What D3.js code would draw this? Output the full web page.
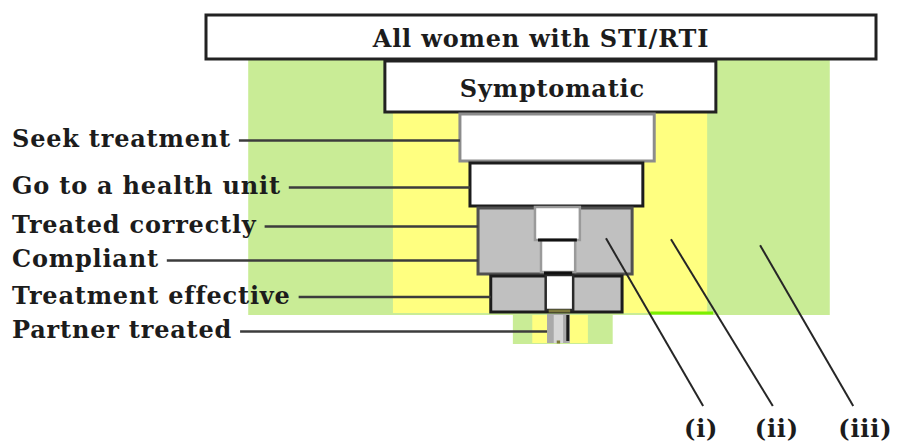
<!DOCTYPE html>
<html>
<head>
<meta charset="utf-8">
<script src="https://cdn.jsdelivr.net/npm/d3@7"></script>
<style>
  body { margin: 0; background: #fff; }
  svg text { font-family: "DejaVu Serif", serif; font-weight: bold; fill: #1c1c1c; letter-spacing: 0.8px; }
</style>
</head>
<body>
<svg id="funnel" width="901" height="445"></svg>
<script>
// stages of the care funnel, widths as % of all women with STI/RTI
const stages = ["All women with STI/RTI", "Symptomatic", "Seek treatment", "Go to a health unit",
                "Treated correctly", "Compliant", "Treatment effective", "Partner treated"]
const stageFrom = [0, 26.7, 37.9, 39.4, 40.6, 40.6, 42.5, 50.9]
const stageTo = [100, 76.1, 66.9, 65.2, 63.6, 63.6, 62.1, 54.3]

// white core (not covered) inside the treated rows
const coreFrom = [null, null, null, null, 49.1, 50.0, 50.7, 51.9]
const coreTo = [null, null, null, null, 55.8, 55.1, 54.8, 53.3]

// background areas (iii) green and (ii) yellow, per row
const greenFrom = [null, 6.3, 6.3, 6.3, 6.3, 6.3, 6.3, 45.8]
const greenTo = [null, 93.1, 93.1, 93.1, 93.1, 93.1, 93.1, 60.7]
const yellowFrom = [null, null, 27.9, 27.9, 27.9, 27.9, 27.9, 48.7]
const yellowTo = [null, null, 74.8, 74.8, 74.8, 74.8, 74.8, 57.0]

// annotations: anchor inside the area, tip near the label
const notes = ["(i)", "(ii)", "(iii)"]
const noteAnchorX = [59.7, 69.4, 82.7]
const noteAnchorRow = [4.95, 4.98, 5.15]
const noteTipX = [74.2, 84.6, 96.6]
const noteLabelX = [73.9, 85.2, 98.4]

const svg = d3.select("#funnel")

let xScale = d3.scaleLinear().domain([0, 100]).range([206, 876])
let yRow = d3.scaleLinear()
    .domain(d3.range(9))
    .range([14, 60, 113, 162, 207, 240, 275, 313, 344])

let rows = stages.map((s, i) => ({i: i, name: s}))

// backgrounds
svg.append("g").selectAll("rect")
    .data(rows.filter(d => greenFrom[d.i] != null))
    .join("rect")
    .attr("x", d => xScale(greenFrom[d.i]))
    .attr("width", d => xScale(greenTo[d.i]) - xScale(greenFrom[d.i]))
    .attr("y", d => yRow(d.i))
    .attr("height", d => yRow(d.i + 1) - yRow(d.i) + (d.i == 6 ? 2 : 0))
    .attr("fill", "#c9ec96")

svg.append("g").selectAll("rect")
    .data(rows.filter(d => yellowFrom[d.i] != null))
    .join("rect")
    .attr("x", d => xScale(yellowFrom[d.i]))
    .attr("width", d => xScale(yellowTo[d.i]) - xScale(yellowFrom[d.i]))
    .attr("y", d => yRow(d.i) + (d.i == 7 ? 2 : 0))
    .attr("height", d => yRow(d.i + 1) - yRow(d.i) - (d.i == 7 ? 3 : 0))
    .attr("fill", "#ffff80")

// merge consecutive stages that share the same extent into one box
let boxes = []
rows.forEach(d => {
    let prev = boxes[boxes.length - 1]
    if (prev && stageFrom[prev.i] == stageFrom[d.i] && stageTo[prev.i] == stageTo[d.i]) {
        prev.r1 = d.i + 1
    } else {
        boxes.push({i: d.i, r0: d.i, r1: d.i + 1})
    }
})

let boxFill = d => d.i >= 4 ? (d.i == 7 ? "#a9a9a9" : "#c0c0c0") : "#fff"
let boxStroke = {0: "#222", 1: "#222", 2: "#8c8c8c", 3: "#1c1c1c", 4: "#505050", 6: "#1c1c1c", 7: "none"}

svg.append("g").selectAll("rect")
    .data(boxes)
    .join("rect")
    .attr("x", d => xScale(stageFrom[d.i]))
    .attr("width", d => xScale(stageTo[d.i]) - xScale(stageFrom[d.i]))
    .attr("y", d => yRow(d.r0) + 1)
    .attr("height", d => yRow(d.r1) - yRow(d.r0) - 2)
    .attr("fill", boxFill)
    .attr("stroke", d => boxStroke[d.i])
    .attr("stroke-width", 3)

// cores
let cores = rows.filter(d => coreFrom[d.i] != null)
svg.append("g").selectAll("rect")
    .data(cores)
    .join("rect")
    .attr("x", d => xScale(coreFrom[d.i]))
    .attr("width", d => xScale(coreTo[d.i]) - xScale(coreFrom[d.i]))
    .attr("y", d => yRow(d.i) + (d.i == 7 ? 2 : 0))
    .attr("height", d => yRow(d.i + 1) - yRow(d.i) - (d.i == 4 ? 0 : 3))
    .attr("fill", d => d.i == 7 ? "#d6d6d6" : "#fff")
    .attr("stroke", d => d.i == 6 ? "#2a2a2a" : (d.i == 7 ? "none" : "#9a9a9a"))
    .attr("stroke-width", 2.5)

// dark bottoms of the cores
svg.append("g").selectAll("line")
    .data(cores)
    .join("line")
    .attr("x1", d => xScale(coreFrom[d.i]) + 3)
    .attr("x2", d => xScale(coreTo[d.i]) - 3)
    .attr("y1", d => yRow(d.i + 1) - (d.i == 4 ? 0 : 2))
    .attr("y2", d => yRow(d.i + 1) - (d.i == 4 ? 0 : 2))
    .attr("stroke", d => d.i >= 6 ? "#7d7a3c" : "#111")
    .attr("stroke-width", 3)

// partner bar right edge
svg.append("line")
    .attr("x1", xScale(stageTo[7]) - 2).attr("x2", xScale(stageTo[7]) - 2)
    .attr("y1", yRow(7) + 2).attr("y2", yRow(8) - 3)
    .attr("stroke", "#1a1a1a").attr("stroke-width", 3)

// bright green edge at the bottom of the yellow area
svg.append("line")
    .attr("x1", xScale(66.3)).attr("x2", xScale(yellowTo[6]) + 6)
    .attr("y1", yRow(7)).attr("y2", yRow(7))
    .attr("stroke", "#7cf000").attr("stroke-width", 3)

// title texts inside the two top boxes
svg.append("g").selectAll("text")
    .data(boxes.filter(d => d.i < 2))
    .join("text")
    .attr("x", d => xScale((stageFrom[d.i] + stageTo[d.i]) / 2) + (d.i == 1 ? 2 : 0))
    .attr("y", d => (yRow(d.r0) + yRow(d.r1)) / 2 + 10)
    .attr("text-anchor", "middle")
    .style("font-size", "24px")
    .text(d => stages[d.i])

// left labels with leader lines
let labelRows = rows.filter(d => d.i >= 2)
let labels = svg.append("g").selectAll("text")
    .data(labelRows)
    .join("text")
    .attr("x", 12)
    .attr("y", d => (yRow(d.i) + yRow(d.i + 1)) / 2 + 9.5)
    .style("font-size", "24px")
    .text(d => d.name)

labels.each(function(d) { d.textEnd = 12 + this.getComputedTextLength() })

svg.append("g").selectAll("line")
    .data(labelRows)
    .join("line")
    .attr("x1", d => d.textEnd + 8)
    .attr("x2", d => xScale(stageFrom[d.i]))
    .attr("y1", d => (yRow(d.i) + yRow(d.i + 1)) / 2 + 3)
    .attr("y2", d => (yRow(d.i) + yRow(d.i + 1)) / 2 + 3)
    .attr("stroke", "#3c3c3c")
    .attr("stroke-width", 2.5)

// annotation pointers
let noteData = notes.map((n, k) => ({k: k, name: n}))
svg.append("g").selectAll("line")
    .data(noteData)
    .join("line")
    .attr("x1", d => xScale(noteAnchorX[d.k]))
    .attr("y1", d => yRow(noteAnchorRow[d.k]))
    .attr("x2", d => xScale(noteTipX[d.k]))
    .attr("y2", 406)
    .attr("stroke", "#262626")
    .attr("stroke-width", 2)

svg.append("g").selectAll("text")
    .data(noteData)
    .join("text")
    .attr("x", d => xScale(noteLabelX[d.k]))
    .attr("y", 437)
    .attr("text-anchor", "middle")
    .style("font-size", "24px")
    .text(d => d.name)
</script>
</body>
</html>
